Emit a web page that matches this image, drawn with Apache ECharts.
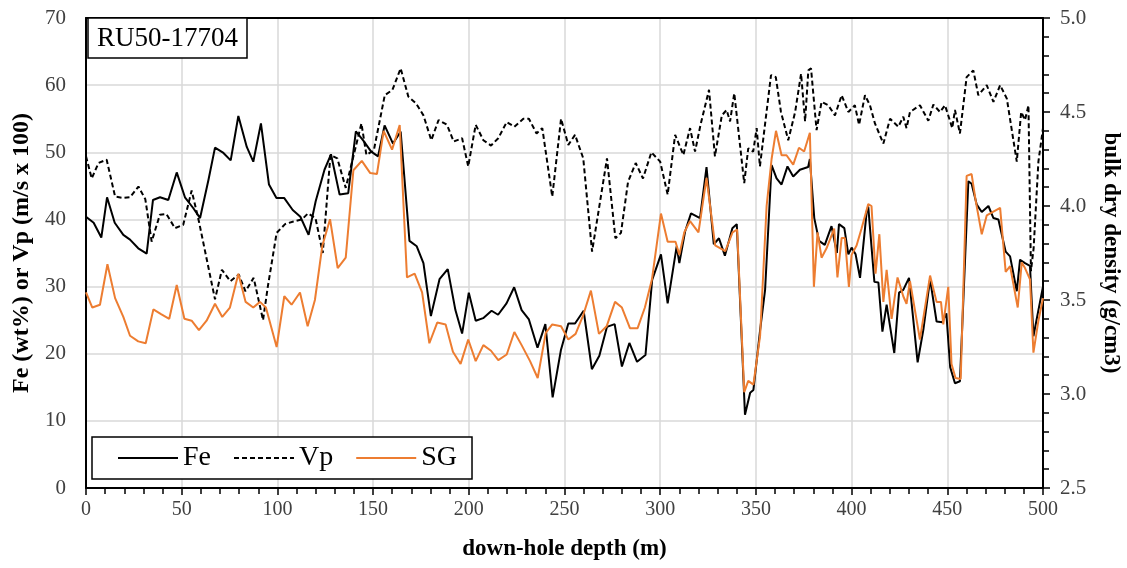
<!DOCTYPE html>
<html>
<head>
<meta charset="utf-8">
<script src="https://cdn.jsdelivr.net/npm/echarts@6/dist/echarts.min.js"></script>
<style>
  html, body { margin: 0; padding: 0; background: #fff; }
  #chart { width: 1127px; height: 568px; }
</style>
</head>
<body>
<div id="chart"></div>
<script>
// Drill hole RU50-17704: Fe grade, P-wave velocity and bulk dry density against depth.
const holeId = 'RU50-17704';

// Fe (wt%) as [depth m, value]
const fePoints = [
  [0,40.4],[4,39.5],[8,37.3],[11,43.3],[15,39.5],[19.5,37.7],[23,37],[27.3,35.7],[31.7,34.9],[35,42.9],
  [38.7,43.3],[43,42.9],[47.4,47],[51.7,43.3],[56,41.7],[59.6,40.2],[64,45.9],[67.4,50.7],[71.8,49.9],[75.6,48.8],
  [79.6,55.4],[84,50.8],[87.4,48.6],[91.4,54.3],[95.6,45.2],[99.5,43.2],[103.5,43.2],[108,41.4],[112,40.4],[116.3,37.7],
  [120,42.7],[124.6,47.4],[128,49.7],[132.5,43.7],[137,43.9],[141,53.1],[144.7,51.8],[149,50.1],[152.6,49.4],[156,54],
  [160.4,51.3],[164.4,53.1],[169,36.8],[172.8,36],[176.3,33.5],[180.2,25.6],[184.7,31.1],[189,32.6],[193,26.5],[196.5,23],
  [200,29.1],[203.6,24.9],[207.5,25.3],[211.9,26.4],[215.3,25.8],[219.7,27.5],[223.7,29.9],[227.6,26.5],[231.4,25.1],[235.9,20.9],
  [240,24.4],[243.8,13.5],[248.1,20.5],[252,24.5],[255.5,24.5],[260,26.4],[264.3,17.7],[268.2,19.7],[272.2,24],[276.2,24.4],
  [280,18.1],[283.9,21.6],[287.9,18.8],[292.3,19.8],[295.8,31],[300.4,34.8],[303.9,27.5],[308.6,36],[310,33.5],[313,38.2],
  [316.1,40.9],[320.8,40.2],[324.2,47.8],[328,36.3],[330.7,37.2],[333.8,34.6],[337.7,38.7],[340,39.3],[344.3,10.9],[347,14.2],
  [348.7,14.6],[352.2,23.5],[354.8,29.5],[358.2,48.1],[360.8,46.1],[363.4,45.2],[366.5,47.9],[369.5,46.4],[373,47.4],[377.3,47.8],
  [378.2,49],[380.5,40.2],[383,36.8],[386,36.2],[389.5,39],[392.3,35],[393.4,39.3],[396.2,38.7],[398.3,34.8],[400,35.8],
  [402.1,34.8],[404.4,31.3],[407.9,41.2],[408.7,41.9],[411.9,30.7],[414,30.6],[416.1,23.3],[418.3,27.3],[422.3,20.1],[424.8,29.1],
  [427,29.5],[430,31.3],[434.5,18.7],[437.5,23.6],[441,31.1],[444.4,24.8],[447.4,24.7],[449.5,26],[451.5,18],[454,15.6],
  [456.6,15.9],[461,45.7],[462.7,45.3],[465.4,42.2],[468,41.1],[471.5,42],[474.1,40.2],[476.7,40],[480.5,35.2],[482.8,34.5],
  [486.3,29.3],[488,34],[490.6,33.5],[493.2,33.1],[495,22.6],[497.6,26.5],[500,30]
];

// Vp (m/s x 100) as [depth m, value]
const vpPoints = [
  [0,49.4],[3,46.1],[6.5,48.4],[10.8,48.9],[15.2,43.4],[19.5,43.2],[23,43.3],[27.4,44.9],[31,43],[34.3,36.7],
  [38.6,40.7],[42,40.8],[46.5,38.7],[50.8,39.2],[55.2,44.3],[59,39.7],[67.4,28.1],[71,32.5],[75.4,30.8],[79.8,31.8],
  [83.3,29.3],[87.6,31.3],[92.5,25],[95,30],[99.6,38],[104,39.3],[108.4,39.7],[112.8,40],[116,40.9],[119.9,40.2],
  [123.7,35],[127.7,49.6],[131.3,49.1],[135.7,44.7],[143.9,54.3],[146.5,49.6],[150.4,50.3],[156.1,58.5],[160.1,59.3],[164.4,62.5],
  [168.4,58.3],[172.4,57.3],[176.3,55.5],[180.4,51.8],[184.2,54.8],[188.6,54.1],[192.1,51.6],[196.5,52.1],[199.7,47.9],[203.6,54.1],
  [207.6,51.8],[211.6,51],[215.4,52.1],[219.8,54.5],[223.8,53.8],[228.5,55],[231.4,55],[235.4,52.8],[238.4,53.6],[243.6,43.4],
  [248.2,55],[252,51.1],[255.5,52.6],[259.8,49.1],[264.4,35.2],[272.2,49.1],[276.6,37.2],[279.5,38],[283.2,45.6],[287.2,48.4],
  [291,46.1],[295.4,50],[300,48.6],[303.9,43.7],[307.8,52.6],[312.1,49.6],[315.6,53.6],[318.2,50.1],[321,54],[325.5,59.3],
  [328.6,49.4],[332.2,55.5],[334.7,56.3],[336.5,54.6],[338.7,58.8],[343.9,45.4],[346,50.6],[348.6,50.1],[350.4,53.6],[352.1,47.9],
  [357.9,61.5],[360.4,61.2],[363.1,56],[366.9,51.8],[370.5,56],[373.6,61.7],[375.7,54.6],[377.4,62.2],[378.8,62.5],[381.7,53.3],
  [384.3,57.5],[387.8,57],[391.3,55.5],[394.8,58.5],[398.3,56],[401.7,57],[403.9,54.1],[407,58.5],[409.6,57],[412.2,54.3],
  [416.6,51.3],[420.1,55],[424.4,53.8],[427,55.3],[428.7,53.6],[430.5,56],[435.7,57],[440.1,54.7],[442.7,57.1],[446.2,56],
  [448.8,57],[452.6,53.6],[454,56.3],[456.6,52.8],[460.1,61.2],[463.6,62.2],[466.2,58.5],[470.6,60],[474.1,57.5],[477.6,60],
  [481.1,58],[486.3,48.6],[488.6,56],[490.6,54.8],[492.4,57],[493.7,32.3],[495.1,35.7],[497.6,48.6],[500,53.6]
];

// Bulk dry density SG (g/cm3) as [depth m, value]
const sgPoints = [
  [0,3.54],[3.3,3.46],[7.3,3.475],[11.2,3.69],[15.2,3.51],[19.5,3.41],[23,3.31],[27.3,3.28],[31.2,3.27],[35.2,3.45],
  [39.2,3.425],[43.5,3.40],[47.4,3.58],[51.4,3.40],[55.2,3.39],[59,3.34],[63,3.39],[67.4,3.48],[71.2,3.41],[75.2,3.46],
  [79.6,3.64],[83.4,3.49],[87.4,3.46],[90.9,3.49],[94,3.46],[99.6,3.25],[103.6,3.52],[107.4,3.475],[111.8,3.54],[115.8,3.36],
  [119.6,3.50],[123.5,3.79],[127.5,3.93],[131.5,3.67],[135.7,3.725],[139.7,4.19],[144.1,4.24],[148.5,4.175],[152,4.17],[155.5,4.40],
  [159.9,4.30],[163.9,4.43],[167.7,3.62],[171.7,3.64],[175.6,3.54],[179.4,3.27],[183.5,3.38],[187.9,3.37],[191.7,3.225],[195.7,3.16],
  [199.7,3.29],[203.6,3.175],[207.6,3.26],[211.6,3.23],[215.4,3.18],[219.8,3.21],[223.8,3.33],[227.6,3.26],[232,3.175],[236,3.085],
  [240.2,3.325],[243.6,3.37],[248.2,3.36],[252,3.29],[255.8,3.32],[259.8,3.42],[263.8,3.55],[268,3.32],[272,3.36],[276.4,3.49],
  [280,3.46],[284.2,3.35],[288.2,3.35],[292,3.46],[295.7,3.61],[300.4,3.96],[303.9,3.81],[308,3.81],[310,3.74],[312.6,3.86],
  [315.6,3.92],[320,3.86],[324.2,4.15],[328.7,3.79],[334,3.76],[337.8,3.86],[340.2,3.875],[343.9,3.01],[346,3.07],[348.7,3.05],
  [352.2,3.31],[355.6,4.0],[358.2,4.25],[360.5,4.40],[363.4,4.27],[366,4.27],[369.5,4.22],[372.5,4.31],[375.2,4.29],[378.2,4.39],
  [380.3,3.57],[382.2,3.86],[384.3,3.725],[386.9,3.775],[390.9,3.88],[392.6,3.62],[394.8,3.83],[396.5,3.83],[398.6,3.57],[400,3.74],
  [402.6,3.79],[405.2,3.88],[408.7,4.01],[410.4,4.00],[412.5,3.64],[414.5,3.85],[416.6,3.49],[418.3,3.66],[420.9,3.40],[424,3.62],
  [427,3.52],[428.7,3.48],[430.5,3.60],[435.7,3.29],[441,3.63],[444.4,3.49],[446.7,3.49],[447.9,3.37],[450.5,3.57],[452.2,3.16],
  [454.3,3.085],[457,3.08],[460.1,4.16],[462.7,4.17],[464.8,4.03],[468,3.85],[470.6,3.95],[474.1,3.97],[477.6,3.99],[480.5,3.65],
  [482.8,3.68],[486.8,3.46],[488.9,3.70],[490.6,3.67],[493.2,3.61],[495,3.22],[497.6,3.39],[500,3.51]
];

const seriesNames = ['Fe', 'Vp', 'SG'];
const xTitle = 'down-hole depth (m)';
const leftTitle = 'Fe (wt%) or Vp (m/s x 100)';
const rightTitle = 'bulk dry density (g/cm3)';

const serif = '"Liberation Serif", "DejaVu Serif", serif';
const gridGrey = '#d9d9d9';
const labelGrey = '#404040';
const frame = { color: '#000', width: 2 };

const chart = echarts.init(document.getElementById('chart'), null, { renderer: 'canvas' });

chart.setOption({
  animation: false,
  backgroundColor: '#fff',
  title: {
    text: holeId,
    left: 88,
    top: 18,
    padding: [7, 9, 6, 9],
    borderColor: '#000',
    borderWidth: 1.5,
    backgroundColor: '#fff',
    textStyle: { fontFamily: serif, fontSize: 27, fontWeight: 'normal', color: '#000' }
  },
  legend: {
    data: seriesNames,
    left: 92,
    top: 437,
    padding: [7, 15, 7, 25],
    itemGap: 22,
    itemWidth: 60,
    itemHeight: 12,
    borderColor: '#000',
    borderWidth: 1.5,
    backgroundColor: '#fff',
    itemStyle: { opacity: 0 },
    textStyle: { fontFamily: serif, fontSize: 28, color: '#000' }
  },
  grid: {
    left: 86, right: 84, top: 18, bottom: 80,
    show: false,
    outerBoundsMode: 'none'
  },
  xAxis: [
    {
      type: 'value',
      min: 0, max: 500, interval: 50,
      name: xTitle,
      nameLocation: 'middle',
      nameGap: 50,
      nameTextStyle: { fontFamily: serif, fontSize: 23, fontWeight: 'bold', color: '#000' },
      axisLine: { onZero: false, lineStyle: frame },
      axisTick: { show: true, length: 7, lineStyle: { color: '#000', width: 1.5 } },
      minorTick: { show: true, splitNumber: 5, length: 6, lineStyle: { color: '#000', width: 1.5 } },
      axisLabel: { fontFamily: serif, fontSize: 20, color: labelGrey, margin: 12 },
      splitLine: { show: true, lineStyle: { color: gridGrey, width: 1.5 } }
    },
    {
      // top edge of the plot frame
      type: 'value',
      position: 'top',
      min: 0, max: 500,
      z: 5,
      axisLine: { show: true, onZero: false, lineStyle: frame },
      axisTick: { show: false },
      axisLabel: { show: false },
      splitLine: { show: false }
    }
  ],
  yAxis: [
    {
      type: 'value',
      position: 'left',
      min: 0, max: 70, interval: 10,
      name: leftTitle,
      nameLocation: 'middle',
      nameGap: 47,
      nameTextStyle: { fontFamily: serif, fontSize: 24, fontWeight: 'bold', color: '#000' },
      axisLine: { show: true, onZero: false, lineStyle: frame },
      axisTick: { show: false },
      axisLabel: { fontFamily: serif, fontSize: 21, color: labelGrey, margin: 20 },
      splitLine: { show: true, lineStyle: { color: gridGrey, width: 1.5 } }
    },
    {
      type: 'value',
      position: 'right',
      min: 2.5, max: 5.0, interval: 0.5,
      name: rightTitle,
      nameLocation: 'middle',
      nameGap: 56,
      nameRotate: 270,
      nameTextStyle: { fontFamily: serif, fontSize: 23, fontWeight: 'bold', color: '#000' },
      axisLine: { show: true, onZero: false, lineStyle: frame },
      axisTick: { show: true, length: 7, lineStyle: { color: '#000', width: 1.5 } },
      minorTick: { show: true, splitNumber: 5, length: 6, lineStyle: { color: '#000', width: 1.5 } },
      axisLabel: { fontFamily: serif, fontSize: 21, color: labelGrey, margin: 17,
                   formatter: v => v.toFixed(1) },
      splitLine: { show: false }
    }
  ],
  series: [
    {
      name: 'Fe', type: 'line', data: fePoints, xAxisIndex: 0, yAxisIndex: 0,
      symbol: 'none', color: '#000',
      lineStyle: { color: '#000', width: 2 }
    },
    {
      name: 'Vp', type: 'line', data: vpPoints, xAxisIndex: 0, yAxisIndex: 0,
      symbol: 'none', color: '#000',
      lineStyle: { color: '#000', width: 2, type: [5, 3] }
    },
    {
      name: 'SG', type: 'line', data: sgPoints, xAxisIndex: 0, yAxisIndex: 1,
      symbol: 'none', color: '#ED7D31',
      lineStyle: { color: '#ED7D31', width: 2 }
    }
  ]
});
</script>
</body>
</html>
